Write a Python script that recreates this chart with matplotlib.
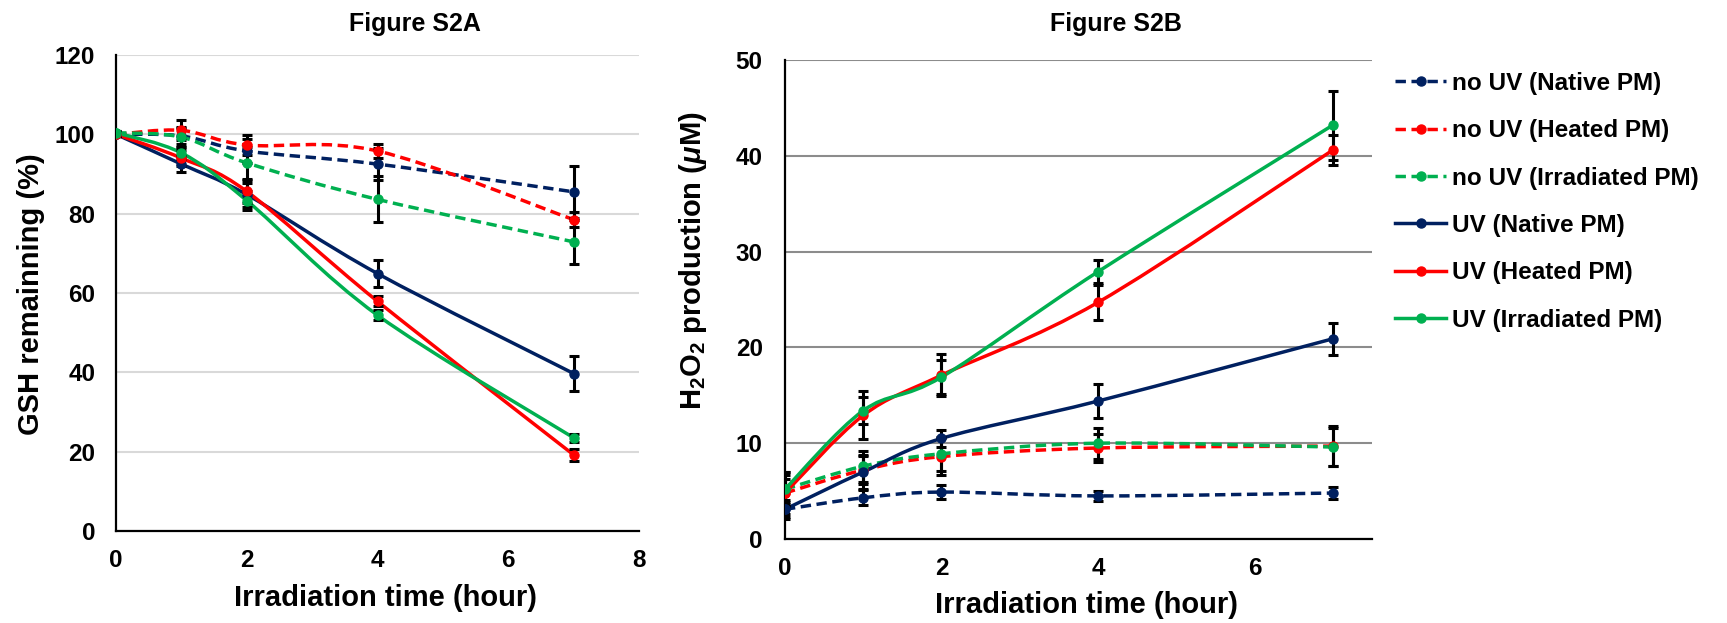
import matplotlib
matplotlib.use('Agg')
import matplotlib.pyplot as plt
from matplotlib.path import Path
from matplotlib.patches import PathPatch
from matplotlib.lines import Line2D
import numpy as np

plt.rcParams['font.family'] = ['Liberation Sans', 'DejaVu Sans']
plt.rcParams['font.weight'] = 'bold'
plt.rcParams['axes.labelweight'] = 'bold'
plt.rcParams['mathtext.fontset'] = 'custom'
plt.rcParams['mathtext.rm'] = 'Liberation Sans:bold'
plt.rcParams['mathtext.it'] = 'Liberation Sans:italic:bold'

# irradiation times (hour)
hours = [0, 1, 2, 4, 7]

series_names = ['no UV (Native PM)', 'no UV (Heated PM)', 'no UV (Irradiated PM)',
                'UV (Native PM)', 'UV (Heated PM)', 'UV (Irradiated PM)']

# Figure S2A: GSH remaining (%)
gsh_nouv_native = [100.0, 99.6, 95.8, 92.5, 85.5]
gsh_nouv_heated = [100.0, 101.0, 97.3, 95.8, 78.5]
gsh_nouv_irrad = [100.4, 99.3, 92.8, 83.6, 72.9]
gsh_uv_native = [100.0, 92.5, 84.8, 64.9, 39.7]
gsh_uv_heated = [100.0, 94.0, 85.6, 57.9, 19.2]
gsh_uv_irrad = [100.4, 95.3, 83.3, 54.4, 23.5]

gsh_err_nouv_native = [0.5, 2.0, 3.0, 4.0, 6.5]
gsh_err_nouv_heated = [0.5, 2.5, 2.5, 1.7, 1.8]
gsh_err_nouv_irrad = [0.5, 2.5, 4.0, 5.8, 5.5]
gsh_err_uv_native = [0.5, 2.0, 3.0, 3.5, 4.3]
gsh_err_uv_heated = [0.5, 2.0, 3.0, 1.3, 1.5]
gsh_err_uv_irrad = [0.5, 1.5, 2.5, 1.2, 1.0]

# Figure S2B: H2O2 production (uM)
h2o2_nouv_native = [3.1, 4.3, 4.9, 4.5, 4.8]
h2o2_nouv_heated = [4.8, 7.2, 8.6, 9.5, 9.7]
h2o2_nouv_irrad = [5.2, 7.6, 8.9, 10.0, 9.6]
h2o2_uv_native = [3.1, 7.0, 10.5, 14.4, 20.9]
h2o2_uv_heated = [4.8, 12.9, 17.1, 24.7, 40.6]
h2o2_uv_irrad = [5.2, 13.4, 16.9, 27.9, 43.2]

h2o2_err_nouv_native = [1.0, 0.8, 0.7, 0.5, 0.6]
h2o2_err_nouv_heated = [2.2, 1.5, 1.9, 1.5, 2.1]
h2o2_err_nouv_irrad = [1.5, 1.6, 1.8, 1.6, 2.0]
h2o2_err_uv_native = [0.8, 1.8, 0.9, 1.8, 1.7]
h2o2_err_uv_heated = [1.5, 2.5, 2.2, 1.8, 1.6]
h2o2_err_uv_irrad = [1.8, 1.4, 1.8, 1.2, 3.6]

colors = ['#002060', '#FF0000', '#00B050', '#002060', '#FF0000', '#00B050']
dashed = (0, (3, 1.6))
styles = [dashed, dashed, dashed, '-', '-', '-']

gsh = [gsh_nouv_native, gsh_nouv_heated, gsh_nouv_irrad, gsh_uv_native, gsh_uv_heated, gsh_uv_irrad]
gsh_err = [gsh_err_nouv_native, gsh_err_nouv_heated, gsh_err_nouv_irrad,
           gsh_err_uv_native, gsh_err_uv_heated, gsh_err_uv_irrad]
h2o2 = [h2o2_nouv_native, h2o2_nouv_heated, h2o2_nouv_irrad, h2o2_uv_native, h2o2_uv_heated, h2o2_uv_irrad]
h2o2_err = [h2o2_err_nouv_native, h2o2_err_nouv_heated, h2o2_err_nouv_irrad,
            h2o2_err_uv_native, h2o2_err_uv_heated, h2o2_err_uv_irrad]


def smooth_path(x, y):
    # excel-like smoothed line: catmull-rom segments as cubic bezier
    pts = np.column_stack([x, y]).astype(float)
    ext = np.vstack([pts[0], pts, pts[-1]])
    verts = [pts[0]]
    codes = [Path.MOVETO]
    for i in range(len(pts) - 1):
        p0, p1, p2, p3 = ext[i], ext[i + 1], ext[i + 2], ext[i + 3]
        verts += [p1 + (p2 - p0) / 6.0, p2 - (p3 - p1) / 6.0, p2]
        codes += [Path.CURVE4] * 3
    return Path(verts, codes)


def draw_panel(ax, values, errors):
    for vals, errs, c, ls in zip(values, errors, colors, styles):
        ax.add_patch(PathPatch(smooth_path(hours, vals), fill=False, edgecolor=c,
                               linewidth=2.5, linestyle=ls, zorder=3))
    for vals, errs, c in zip(values, errors, colors):
        ax.errorbar(hours, vals, yerr=errs, fmt='none', ecolor='black',
                    elinewidth=2.2, capsize=3.4, capthick=2.2, zorder=4)
    for vals, c in zip(values, colors):
        ax.plot(hours, vals, linestyle='none', marker='o', markersize=6.5,
                color=c, zorder=5)
    for side in ['top', 'right']:
        ax.spines[side].set_visible(False)
    for side in ['left', 'bottom']:
        ax.spines[side].set_linewidth(1.6)
        ax.spines[side].set_color('black')
    ax.set_axisbelow(True)


fig = plt.figure(figsize=(17.27, 6.23), dpi=100)

axA = fig.add_axes([0.0672, 0.1477, 0.3028, 0.764])
draw_panel(axA, gsh, gsh_err)
axA.set_xlim(0, 8)
axA.set_ylim(0, 120)
axA.set_xticks([0, 2, 4, 6, 8])
axA.set_yticks(range(0, 121, 20))
axA.yaxis.grid(True, color='#D9D9D9', linewidth=1.5)
axA.tick_params(axis='both', length=0, labelsize=17.5)
axA.tick_params(axis='y', pad=15)
axA.tick_params(axis='x', pad=13)
axA.set_xlabel('Irradiation time (hour)', fontsize=21, fontweight='bold', va='center')
axA.xaxis.set_label_coords(0.516, -0.141)
axA.set_ylabel('GSH remainning (%)', fontsize=21, fontweight='bold', va='center')
axA.yaxis.set_label_coords(-0.163, 0.498)

axB = fig.add_axes([0.4545, 0.1348, 0.3399, 0.7689])
draw_panel(axB, h2o2, h2o2_err)
axB.set_xlim(0, 7.5)
axB.set_ylim(0, 50)
axB.set_xticks([0, 2, 4, 6])
axB.set_yticks(range(0, 51, 10))
axB.yaxis.grid(True, color='#8C8C8C', linewidth=1.5)
axB.tick_params(axis='both', length=0, labelsize=17.5)
axB.tick_params(axis='y', pad=16)
axB.tick_params(axis='x', pad=13)
axB.set_xlabel('Irradiation time (hour)', fontsize=21, fontweight='bold', va='center')
axB.xaxis.set_label_coords(0.514, -0.138)
axB.set_ylabel(r'H$_\mathregular{2}$O$_\mathregular{2}$ production ($\mathit{\mu}$M)',
               fontsize=21, fontweight='bold', va='center')
axB.yaxis.set_label_coords(-0.157, 0.582)

fig.text(415 / 1727, 1 - 24 / 623, 'Figure S2A', fontsize=18, fontweight='bold', ha='center', va='center')
fig.text(1116 / 1727, 1 - 24 / 623, 'Figure S2B', fontsize=18, fontweight='bold', ha='center', va='center')

handles = [Line2D([], [], color=c, linestyle=ls, linewidth=2.5, marker='o', markersize=6.5)
           for c, ls in zip(colors, styles)]
fig.legend(handles, series_names, loc='upper left', bbox_to_anchor=(1395 / 1727, 1 - 72 / 623),
           frameon=False, fontsize=17.5, handlelength=2.1, handletextpad=0.25,
           labelspacing=1.0, borderpad=0, borderaxespad=0)

plt.savefig('out.png', dpi=100)
